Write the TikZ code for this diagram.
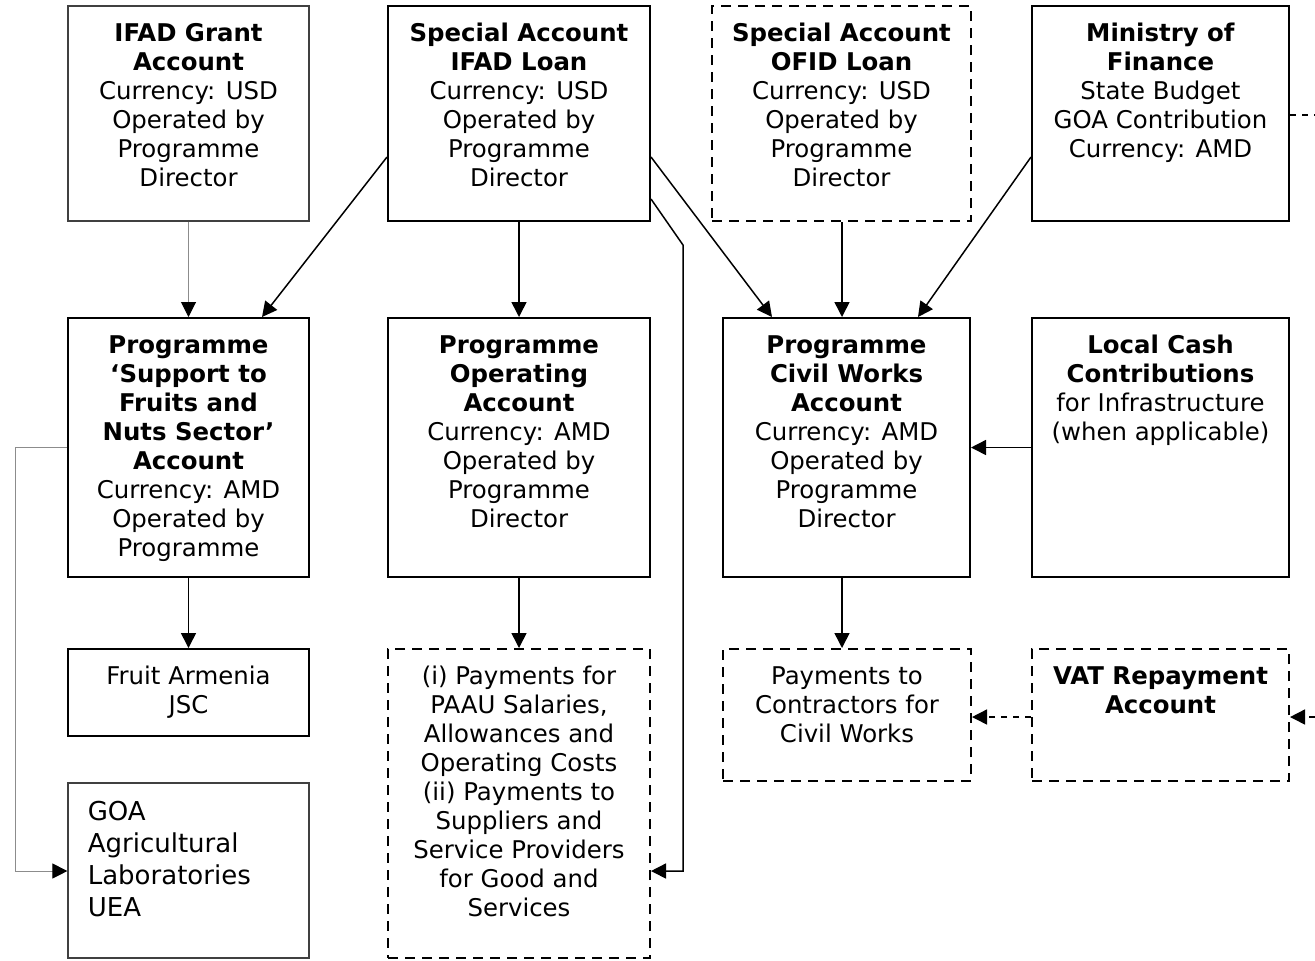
\documentclass[tikz,border=0pt]{standalone}
\usepackage{fontspec}
\setmainfont{DejaVu Sans}
\usetikzlibrary{arrows.meta,calc}
\begin{document}
\begin{tikzpicture}[x=0.5pt,y=-0.5pt,
  box/.style={draw=black, line width=1pt, inner sep=0pt},
  thinbox/.style={draw=black!75, line width=0.6pt, inner sep=0pt},
  dbox/.style={box, dash pattern=on 5pt off 3.5pt},
  txt/.style={anchor=north, inner sep=0pt, align=center, font=\fontsize{12.2}{14.5}\selectfont},
  arr/.style={line width=0.75pt, -{Triangle[length=7.5pt,width=7.5pt]}},
  garr/.style={draw=black!45, line width=0.5pt, -{Triangle[length=7.5pt,width=7.5pt,color=black]}},
  darr/.style={arr, dash pattern=on 3pt off 3pt},
  dline/.style={line width=0.75pt, dash pattern=on 3pt off 3pt},
]
\useasboundingbox (0,0) rectangle (1315,960);
% boxes
\node[thinbox, minimum width=120.5pt, minimum height=107.5pt] (grant) at (188.5,113.5) {};
\node[box, minimum width=131pt, minimum height=107.5pt] (sail) at (519,113.5) {};
\node[dbox, minimum width=129.5pt, minimum height=107.5pt] (sofid) at (841.5,113.5) {};
\node[box, minimum width=128.5pt, minimum height=107.5pt] (mof) at (1160.5,113.5) {};
\node[box, minimum width=120.5pt, minimum height=129.5pt] (psup) at (188.5,447.5) {};
\node[box, minimum width=131pt, minimum height=129.5pt] (pop) at (519,447.5) {};
\node[box, minimum width=123.5pt, minimum height=129.5pt] (pcw) at (846.5,447.5) {};
\node[box, minimum width=128.5pt, minimum height=129.5pt] (lcash) at (1160.5,447.5) {};
\node[box, minimum width=120.5pt, minimum height=43.5pt] (fruit) at (188.5,692.5) {};
\node[dbox, minimum width=131pt, minimum height=154.5pt] (pay1) at (519,803.5) {};
\node[dbox, minimum width=124pt, minimum height=66pt] (pay2) at (847,715) {};
\node[dbox, minimum width=128.5pt, minimum height=66pt] (vat) at (1160.5,715) {};
\node[thinbox, minimum width=120.5pt, minimum height=87.5pt] (goa) at (188.5,870.5) {};
% texts
\node[txt, yshift=-9pt] (tgrant) at (grant.north) {\textbf{IFAD Grant}\\\textbf{Account}\\Currency: USD\\Operated by\\Programme\\Director};
\node[txt, yshift=-9pt] (tsail) at (sail.north) {\textbf{Special Account}\\\textbf{IFAD Loan}\\Currency: USD\\Operated by\\Programme\\Director};
\node[txt, yshift=-9pt] (tsofid) at (sofid.north) {\textbf{Special Account}\\\textbf{OFID Loan}\\Currency: USD\\Operated by\\Programme\\Director};
\node[txt, yshift=-9pt] (tmof) at (mof.north) {\textbf{Ministry of}\\\textbf{Finance}\\State Budget\\GOA Contribution\\Currency: AMD};
\node[txt, yshift=-9pt] (tpsup) at (psup.north) {\textbf{Programme}\\\textbf{‘Support to}\\\textbf{Fruits and}\\\textbf{Nuts Sector’}\\\textbf{Account}\\Currency: AMD\\Operated by\\Programme};
\node[txt, yshift=-9pt] (tpop) at (pop.north) {\textbf{Programme}\\\textbf{Operating}\\\textbf{Account}\\Currency: AMD\\Operated by\\Programme\\Director};
\node[txt, yshift=-9pt] (tpcw) at (pcw.north) {\textbf{Programme}\\\textbf{Civil Works}\\\textbf{Account}\\Currency: AMD\\Operated by\\Programme\\Director};
\node[txt, yshift=-9pt] (tlcash) at (lcash.north) {\textbf{Local Cash}\\\textbf{Contributions}\\for Infrastructure\\(when applicable)};
\node[txt, yshift=-9pt] (tfruit) at (fruit.north) {Fruit Armenia\\JSC};
\node[txt, yshift=-9pt] (tpay1) at (pay1.north) {(i) Payments for\\PAAU Salaries,\\Allowances and\\Operating Costs\\(ii) Payments to\\Suppliers and\\Service Providers\\for Good and\\Services};
\node[txt, yshift=-9pt] (tpay2) at (pay2.north) {Payments to\\Contractors for\\Civil Works};
\node[txt, yshift=-9pt] (tvat) at (vat.north) {\textbf{VAT Repayment}\\\textbf{Account}};
\node[anchor=north west, inner sep=0pt, align=left, font=\fontsize{13}{16}\selectfont, xshift=10pt, yshift=-9pt] (tgoa) at (goa.north west) {GOA\\Agricultural\\Laboratories\\UEA};
% helper coordinates
\coordinate (ya) at (0,157);
\coordinate (yb) at (0,199);
\coordinate (yc) at (0,871);
\coordinate (yd) at (0,717);
\coordinate (xa) at (262,0);
\coordinate (xb) at (772,0);
\coordinate (xc) at (918,0);
\coordinate (xd) at (842,0);
\coordinate (xl) at (15,0);
\coordinate (bend) at (683,245);
\coordinate (edgeR) at (1315,717);
\coordinate (edgeM) at (1315,115);
% connectors
\draw[garr] (grant.south) -- (psup.north);
\draw[arr] (sail.west |- ya) -- (psup.north -| xa);
\draw[arr] (sail.south) -- (pop.north);
\draw[arr] (sail.east |- ya) -- (pcw.north -| xb);
\draw[arr] (sail.east |- yb) -- (bend) -- (bend |- yc) -- (pay1.east |- yc);
\draw[arr] (sofid.south -| xd) -- (pcw.north -| xd);
\draw[arr] (mof.west |- ya) -- (pcw.north -| xc);
\draw[arr] (lcash.west) -- (pcw.east);
\draw[arr] (psup.south) -- (fruit.north);
\draw[garr] (psup.west) -- (psup.west -| xl) -- (xl |- yc) -- (goa.west |- yc);
\draw[arr] (pop.south) -- (pay1.north);
\draw[arr] (pcw.south -| xd) -- (pay2.north -| xd);
\draw[darr] (vat.west |- yd) -- (pay2.east |- yd);
\draw[darr] (edgeR) -- (vat.east |- yd);
\draw[dline] (mof.east |- edgeM) -- (edgeM);
\end{tikzpicture}
\end{document}
